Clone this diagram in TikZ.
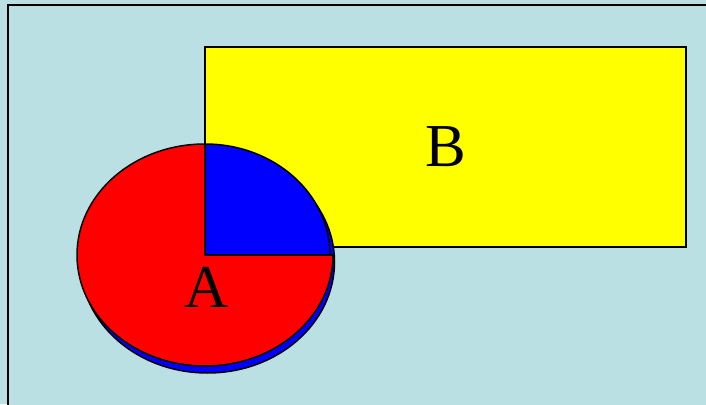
\documentclass[tikz,border=0pt]{standalone}
\usepackage{fontspec}
\setmainfont{Liberation Serif}
\usetikzlibrary{calc}

\definecolor{paleblue}{RGB}{186,224,227}
\definecolor{pieblue}{RGB}{0,0,255}
\definecolor{piered}{RGB}{255,0,0}
\definecolor{boxyellow}{RGB}{255,255,0}

\begin{document}
\begin{tikzpicture}[x=1pt,y=1pt]

\tikzset{
  frame/.style={draw=black, line width=2.8pt, fill=paleblue},
  boxnode/.style={rectangle, draw=black, line width=1.8pt, fill=boxyellow,
                  minimum width=481pt, minimum height=200pt, inner sep=0pt,
                  font=\fontsize{61}{61}\selectfont},
  slice/.style={draw=black, line width=1.5pt, line join=round},
  biglabel/.style={font=\fontsize{61}{61}\selectfont, inner sep=0pt}
}

\useasboundingbox (0,0) rectangle (706,404);

% Background
\fill[paleblue] (0,0) rectangle (706,404);
\draw[frame] (8,-20) rectangle (730,399);

% Box B
\node[boxnode] (boxB) at (445.5,257) {B};

% Pie A
\coordinate (pieC) at (205,149);
\draw[slice, fill=pieblue] ($(pieC)+(2.5,-7)$) ellipse[x radius=127, y radius=111];
\draw[slice, fill=piered] (pieC) -- ($(pieC)+(0,111)$)
  arc[start angle=90, end angle=360, x radius=128, y radius=111] -- cycle;
\draw[slice, fill=pieblue] (pieC) -- ($(pieC)+(125,0)$)
  arc[start angle=0, end angle=90, x radius=125, y radius=111] -- cycle;
\node[biglabel] (labelA) at (207,117) {A};

\end{tikzpicture}
\end{document}
